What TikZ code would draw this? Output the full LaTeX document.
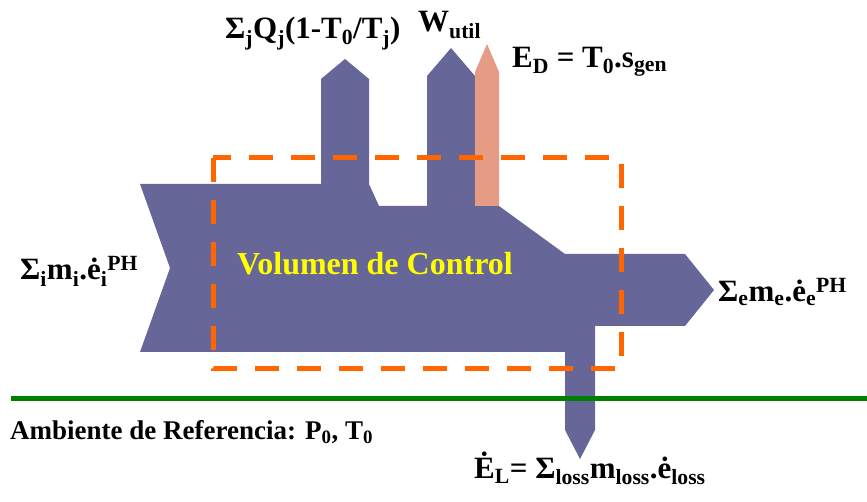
\documentclass[tikz,border=0pt]{standalone}
\usepackage{fontspec}
\setmainfont{Liberation Serif}
\definecolor{flujo}{HTML}{666699}
\definecolor{destruc}{HTML}{E69C84}
\definecolor{frontera}{HTML}{FF6600}
\definecolor{ambiente}{HTML}{008000}
\definecolor{rotulo}{HTML}{FFFF00}
\tikzset{
  etiq/.style={anchor=base west, inner sep=0pt, font=\fontsize{31}{35}\selectfont\bfseries},
  etiqchica/.style={etiq, font=\fontsize{27}{31}\selectfont\bfseries},
  limite/.style={frontera, line width=5pt, dash pattern=on 24pt off 18pt}
}
\begin{document}
\begin{tikzpicture}[x=1pt,y=-1pt]
  \useasboundingbox (0,0) rectangle (867,502);
  % flujo de exergia
  \fill[flujo] (140,184) -- (321,184) -- (321,79) -- (345,59) -- (369,79) -- (369,184)
    -- (379,206) -- (427,206) -- (427,76) -- (451,48) -- (475,76) -- (475,206)
    -- (499,206) -- (565,254) -- (685,254) -- (714,290) -- (685,326) -- (595,326)
    -- (595,430) -- (580,459) -- (565,430) -- (565,352) -- (140,352) -- (170,268) -- cycle;
  % destruccion
  \fill[destruc] (475,206) -- (475,72) -- (487,44) -- (499,72) -- (499,206) -- cycle;
  % volumen de control y ambiente
  \draw[limite] (213,158) rectangle (621,368);
  \draw[ambiente, line width=5pt] (11,398) -- (867,398);
  % etiquetas
  \node[etiq] (calor) at (225,39) {Σ\textsubscript{j}Q\textsubscript{j}(1-T\textsubscript{0}/T\textsubscript{j})};
  \node[etiq] (trabajo) at (418,32) {W\textsubscript{util}};
  \node[etiq] (destruccion) at (512,68) {E\textsubscript{D} = T\textsubscript{0}.s\textsubscript{gen}};
  \node[etiq] (entrada) at (20,280) {Σ\textsubscript{i}m\textsubscript{i}.ė\textsubscript{i}\textsuperscript{PH}};
  \node[etiq, font=\fontsize{32}{36}\selectfont\bfseries, text=rotulo] (vc) at (237,275) {Volumen de Control};
  \node[etiq] (salida) at (718,302) {Σ\textsubscript{e}m\textsubscript{e}.ė\textsubscript{e}\textsuperscript{PH}};
  \node[etiqchica] (ref) at (10,439) {Ambiente de Referencia: P\textsubscript{0}, T\textsubscript{0}};
  \node[etiq] (perdida) at (474,478) {Ė\textsubscript{L}= Σ\textsubscript{loss}m\textsubscript{loss}.ė\textsubscript{loss}};
\end{tikzpicture}
\end{document}
